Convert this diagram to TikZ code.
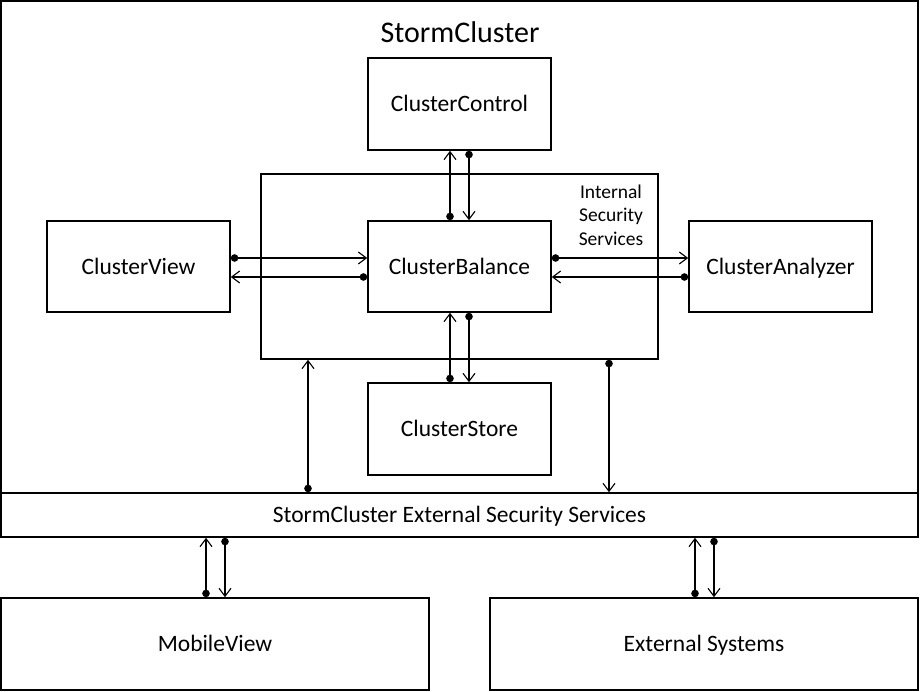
\documentclass[tikz,border=0pt]{standalone}
\usepackage{fontspec}
\setmainfont{Carlito}
\usetikzlibrary{arrows.meta}
\tikzset{
  box/.style={draw, line width=1.6pt, inner sep=0pt, fill=white, text height=16.5pt, text depth=1.5pt, font=\fontsize{23.5}{28}\selectfont},
  link/.style={line width=1.3pt, {Circle[length=7.5pt,width=7.5pt]}-{Straight Barb[length=8pt,width=12pt,line width=1.1pt]}},
}
\begin{document}
\begin{tikzpicture}[x=1pt,y=-1pt]
\useasboundingbox (0,0) rectangle (920,691);
% outer cluster
\node[box, minimum width=917pt, minimum height=492pt] (outer) at (459.5,247) {};
\node[font=\fontsize{30}{34}\selectfont, inner sep=0pt] (title) at (460,32) {StormCluster};
% internal security region
\node[box, minimum width=397pt, minimum height=185pt] (internal) at (459.5,266.5) {};
\node[align=center, inner sep=0pt, font=\fontsize{19.5}{23.5}\selectfont] (istext) at (611,215) {Internal\\Security\\Services};
% components
\node[box, minimum width=183pt, minimum height=92pt] (control) at (459.5,104) {ClusterControl};
\node[box, minimum width=183pt, minimum height=91pt] (balance) at (459.5,266.5) {ClusterBalance};
\node[box, minimum width=183pt, minimum height=92pt] (store) at (459.5,429) {ClusterStore};
\node[box, minimum width=183pt, minimum height=91pt] (view) at (138.5,266.5) {ClusterView};
\node[box, minimum width=183pt, minimum height=91pt] (analyzer) at (780.5,266.5) {ClusterAnalyzer};
\node[box, minimum width=917pt, minimum height=44pt] (bar) at (459.5,515) {StormCluster External Security Services};
\node[box, minimum width=428pt, minimum height=92pt] (mobile) at (215,644) {MobileView};
\node[box, minimum width=428pt, minimum height=92pt] (extsys) at (704,644) {External Systems};
% helper coordinates
\coordinate (x450) at (450,0);
\coordinate (x469) at (469,0);
\coordinate (y258) at (0,258);
\coordinate (y277) at (0,277);
\coordinate (x308) at (308,0);
\coordinate (x609) at (609,0);
\coordinate (x206) at (206,0);
\coordinate (x225) at (225,0);
\coordinate (x695) at (695,0);
\coordinate (x714) at (714,0);
% connectors
\draw[link] (balance.north -| x450) -- (control.south -| x450);
\draw[link] (control.south -| x469) -- (balance.north -| x469);
\draw[link] (view.east |- y258) -- (balance.west |- y258);
\draw[link] (balance.west |- y277) -- (view.east |- y277);
\draw[link] (balance.east |- y258) -- (analyzer.west |- y258);
\draw[link] (analyzer.west |- y277) -- (balance.east |- y277);
\draw[link] (store.north -| x450) -- (balance.south -| x450);
\draw[link] (balance.south -| x469) -- (store.north -| x469);
\draw[link] (bar.north -| x308) -- (internal.south -| x308);
\draw[link] (internal.south -| x609) -- (bar.north -| x609);
\draw[link] (mobile.north -| x206) -- (bar.south -| x206);
\draw[link] (bar.south -| x225) -- (mobile.north -| x225);
\draw[link] (extsys.north -| x695) -- (bar.south -| x695);
\draw[link] (bar.south -| x714) -- (extsys.north -| x714);
\end{tikzpicture}
\end{document}
